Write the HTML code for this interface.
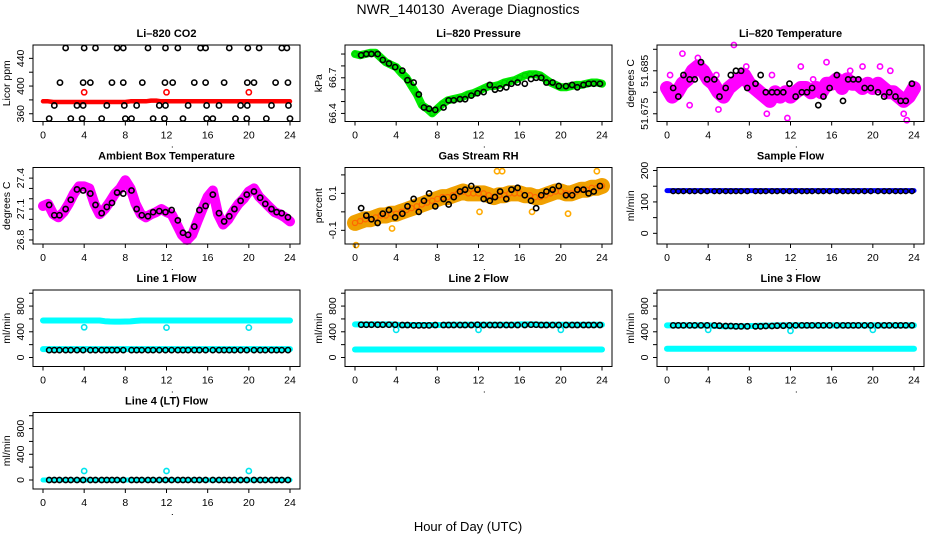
<!DOCTYPE html>
<html><head><meta charset="utf-8"><style>
html,body{margin:0;padding:0;background:#fff;}
svg{display:block;font-family:"Liberation Sans",Arial,sans-serif;}
</style></head><body>
<svg id="chart" width="936" height="540" viewBox="0 0 936 540" xmlns="http://www.w3.org/2000/svg">
<text x="468" y="14" font-size="14" text-anchor="middle">NWR_140130&#160; Average Diagnostics</text>
<text x="468" y="531" font-size="13" text-anchor="middle">Hour of Day (UTC)</text>
</svg>
<script>
// ---- data ----
const halfHours = [0,0.5,1,1.5,2,2.5,3,3.5,4,4.5,5,5.5,6,6.5,7,7.5,8,8.5,9,9.5,10,10.5,11,11.5,12,12.5,13,13.5,14,14.5,15,15.5,16,16.5,17,17.5,18,18.5,19,19.5,20,20.5,21,21.5,22,22.5,23,23.5,24];
const hourPts = [0.6,1.1,1.6,2.2,2.7,3.3,3.9,4.6,5.1,5.7,6.2,6.7,7.2,7.8,8.6,9.1,9.6,10.2,10.7,11.3,11.9,12.5,13.1,13.6,14.1,14.7,15.2,15.8,16.5,17.1,17.6,18.1,18.6,19.2,19.8,20.5,21.1,21.6,22.2,22.7,23.2,23.8];
const xTicks = [0,4,8,12,16,20,24];

const co2Red = [378,378,377,377,377,377,377,377,377,377,377,377,377,377,377,377,377,378,378,378,378,379,379,378,378,378,378,378,378,378,378,378,378,378,378,378,378,378,378,378,378,378,378,378,378,378,378,378,378];
const co2RedCircHours = [4,12,20];
const co2RedCircVals = [391,391,391];
const co2BlackHours = [2.2,4.0,5.1,7.2,7.8,10.2,11.9,13.1,15.3,15.8,18.1,19.9,21.0,23.2,23.7, 1.65,3.9,4.6,6.7,7.8,9.65,11.85,12.6,14.7,15.8,17.6,19.85,20.5,22.6,23.8, 1.1,3.3,3.9,6.2,7.9,9.1,11.3,11.9,14.1,15.9,17.1,19.2,19.85,22.2,23.85, 0.6,2.7,3.8,5.7,8.0,8.6,10.7,11.8,13.6,15.9,16.5,18.7,19.8,21.7,24.0];
const co2BlackVals = [455,455,455,455,455,455,455,455,455,455,455,455,455,455,455, 405,405,405,405,405,405,405,405,405,405,405,405,405,405,405, 372,372,372,372,372,372,372,372,372,372,372,372,372,372,372, 353,353,353,353,353,353,353,353,353,353,353,353,353,353,353];

const pressGreen = [66.90,66.89,66.90,66.91,66.91,66.87,66.83,66.81,66.79,66.74,66.70,66.63,66.56,66.47,66.44,66.40,66.44,66.48,66.51,66.52,66.53,66.54,66.56,66.57,66.59,66.61,66.63,66.63,66.64,66.66,66.67,66.68,66.70,66.72,66.73,66.73,66.72,66.69,66.66,66.64,66.62,66.62,66.63,66.64,66.64,66.65,66.66,66.66,66.65];
const pressBlack = [66.89,66.90,66.90,66.90,66.85,66.82,66.79,66.76,66.68,66.66,66.56,66.45,66.44,66.43,66.45,66.51,66.51,66.52,66.52,66.55,66.57,66.58,66.64,66.60,66.61,66.62,66.65,66.66,66.65,66.69,66.70,66.70,66.66,66.66,66.63,66.63,66.64,66.62,66.64,66.65,66.65,66.65];

const tempMag = [51.681,51.679,51.680,51.682,51.683,51.685,51.686,51.685,51.683,51.682,51.680,51.679,51.681,51.682,51.683,51.684,51.682,51.681,51.680,51.679,51.678,51.680,51.679,51.680,51.679,51.680,51.681,51.681,51.680,51.681,51.680,51.682,51.682,51.683,51.681,51.683,51.682,51.682,51.681,51.682,51.681,51.682,51.681,51.680,51.680,51.679,51.678,51.679,51.681];
const tempOutHours = [1.5,6.5,15.5,11.7,9.7,23.3,5,23,7.7,19,14.2,3,20.7,13,0.3,2.2,10.2,17.8,21.7,4.8];
const tempOutVals = [51.689,51.691,51.687,51.674,51.675,51.6735,51.676,51.675,51.686,51.686,51.683,51.688,51.686,51.686,51.684,51.677,51.684,51.685,51.685,51.684];
const tempBlack = [51.681,51.679,51.684,51.683,51.683,51.687,51.683,51.683,51.679,51.681,51.684,51.685,51.685,51.681,51.682,51.684,51.680,51.680,51.680,51.680,51.682,51.679,51.680,51.680,51.681,51.677,51.679,51.681,51.684,51.678,51.683,51.683,51.683,51.681,51.681,51.680,51.679,51.680,51.679,51.678,51.678,51.682];

const ambMag = [27.13,27.15,27.05,27.02,27.07,27.15,27.25,27.32,27.32,27.30,27.15,27.05,27.10,27.17,27.25,27.30,27.38,27.30,27.15,27.05,27.02,27.05,27.07,27.10,27.07,27.05,26.95,26.85,26.80,26.85,26.98,27.10,27.22,27.28,27.05,26.95,27.00,27.08,27.15,27.20,27.27,27.30,27.22,27.17,27.12,27.07,27.05,27.02,26.98];
const ambBlack = [27.14,27.04,27.04,27.10,27.19,27.29,27.28,27.25,27.14,27.06,27.12,27.16,27.26,27.25,27.28,27.10,27.04,27.03,27.07,27.08,27.07,27.09,26.99,26.87,26.85,26.93,27.09,27.13,27.24,27.06,26.98,27.03,27.10,27.18,27.24,27.27,27.21,27.15,27.10,27.07,27.06,27.02];

const rhOrange = [-0.06,-0.05,-0.04,-0.04,-0.03,-0.02,-0.02,-0.01,-0.01,0.0,0.01,0.02,0.03,0.04,0.05,0.06,0.07,0.08,0.08,0.09,0.10,0.11,0.10,0.10,0.10,0.10,0.09,0.08,0.09,0.09,0.10,0.10,0.10,0.09,0.09,0.08,0.08,0.09,0.10,0.11,0.11,0.10,0.10,0.11,0.12,0.12,0.13,0.13,0.14];
const rhBlack = [0.02,-0.02,-0.04,-0.06,-0.01,0.01,-0.03,-0.01,0.03,0.07,0.00,0.06,0.10,0.03,0.07,0.04,0.08,0.11,0.12,0.14,0.12,0.07,0.06,0.08,0.11,0.07,0.12,0.13,0.09,0.06,0.02,0.09,0.11,0.12,0.14,0.09,0.09,0.12,0.12,0.10,0.11,0.14];
const rhOutHours = [0.1,3.6,12.1,13.8,17.2,20.7,23.5,14.3];
const rhOutVals = [-0.18,-0.09,0.00,0.22,0.0,-0.01,0.22,0.22];

const sampleBlue = [136,136,136,136,136,136,136,136,136,136,136,136,136,136,136,136,136,136,136,136,136,136,136,136,136,136,136,136,136,136,136,136,136,136,136,136,136,136,136,136,136,136,136,136,136,136,136,136,136];
const sampleBlack = [134,134,134,134,134,134,134,134,134,134,134,134,134,134,134,134,134,134,134,134,134,134,134,134,134,134,134,134,134,134,134,134,134,134,134,134,134,134,134,134,134,134];

const flowCircHours = [4,12,20];
const line1CyanHi = [575,575,575,575,575,575,575,575,575,575,575,575,565,560,558,558,560,562,570,575,575,575,575,575,575,575,575,575,575,575,575,575,575,575,575,575,575,575,575,575,575,575,575,575,575,575,575,575,575];
const line1CyanLo = [130,130,130,130,130,130,130,130,130,130,130,130,130,130,130,130,130,130,130,130,130,130,130,130,130,130,130,130,130,130,130,130,130,130,130,130,130,130,130,130,130,130,130,130,130,130,130,130,130];
const line1Black = [115,115,115,115,115,115,115,115,115,115,115,115,115,115,115,115,115,115,115,115,115,115,115,115,115,115,115,115,115,115,115,115,115,115,115,115,115,115,115,115,115,115];
const line1Circ = [470,465,465];

const line2CyanHi = [515,515,515,515,515,515,515,515,510,505,505,505,505,505,505,505,505,505,510,510,510,510,510,510,510,510,510,510,510,510,510,510,515,515,515,515,510,510,510,510,510,510,510,510,510,510,510,510,510];
const line2CyanLo = [125,125,125,125,125,125,125,125,125,125,125,125,125,125,125,125,125,125,125,125,125,125,125,125,125,125,125,125,125,125,125,125,125,125,125,125,125,125,125,125,125,125,125,125,125,125,125,125,125];
const line2Black = [510,510,510,510,510,510,510,505,505,500,500,500,500,505,505,505,505,505,505,505,510,505,505,505,505,505,505,505,505,510,510,505,505,505,505,505,505,505,505,505,505,505];
const line2Circ = [430,430,430];

const line3CyanHi = [500,500,500,500,500,500,500,500,500,495,490,485,485,485,485,485,490,490,495,495,495,500,500,500,500,500,500,500,500,500,500,500,500,500,500,500,500,500,500,500,500,500,500,500,500,500,500,500,500];
const line3CyanLo = [135,135,135,135,135,135,135,135,135,135,135,135,135,135,135,135,135,135,135,135,135,135,135,135,135,135,135,135,135,135,135,135,135,135,135,135,135,135,135,135,135,135,135,135,135,135,135,135,135];
const line3Black = [500,500,500,500,500,500,500,500,495,490,490,485,485,485,485,485,490,490,495,495,500,500,500,500,500,500,500,500,500,500,500,500,500,500,500,500,500,500,500,500,500,500];
const line3Circ = [430,415,430];

const line4Cyan = [0,0,0,0,0,0,0,0,0,0,0,0,0,0,0,0,0,0,0,0,0,0,0,0,0,0,0,0,0,0,0,0,0,0,0,0,0,0,0,0,0,0,0,0,0,0,0,0,0];
const line4Black = [0,0,0,0,0,0,0,0,0,0,0,0,0,0,0,0,0,0,0,0,0,0,0,0,0,0,0,0,0,0,0,0,0,0,0,0,0,0,0,0,0,0];
const line4Circ = [140,140,140];

// ---- drawing ----
const NS = 'http://www.w3.org/2000/svg';
const svg = document.getElementById('chart');
const colX = [33,345,657];
const rowY = [45,167.5,290,412.5];
const BW = 267, BH = 76.5;
function mk(tag, attrs, parent){ const e=document.createElementNS(NS,tag); for(const k in attrs) e.setAttribute(k,attrs[k]); (parent||svg).appendChild(e); return e; }

function panel(name, col, row, title, ylab, ylim, yticks, ylabels){
  const g = mk('g',{});
  
  
  const bx=colX[col], by=rowY[row];
  const xs = h => bx+10 + h*(BW-20)/24;
  const ys = v => by+BH - (v-ylim[0])/(ylim[1]-ylim[0])*BH;
  const t = mk('text',{x:bx+BW/2,y:by-8,'font-size':11,'font-weight':'bold','text-anchor':'middle'},g);
  t.textContent=title;
  
  
  const marks = mk('g',{},g);
  
  
  const box = mk('rect',{x:bx,y:by,width:BW,height:BH,fill:'none',stroke:'#000','stroke-width':1},g);
  
  
  const xa = mk('g',{},g);
  
  
  xTicks.forEach(h=>{
    mk('line',{x1:xs(h),x2:xs(h),y1:by+BH,y2:by+BH+4,stroke:'#000'},xa);
    const l=mk('text',{x:xs(h),y:by+BH+17,'font-size':10.5,'text-anchor':'middle'},xa); l.textContent=h;
  });
  mk('rect',{x:bx+BW*0.52,y:by+BH+25,width:1,height:1,fill:'#000'},xa);
  const ya = mk('g',{},g);
  
  
  yticks.forEach(v=>{ mk('line',{x1:bx-4,x2:bx,y1:ys(v),y2:ys(v),stroke:'#000'},ya); });
  ylabels.forEach(v=>{
    const x=bx-9, y=ys(v);
    const l=mk('text',{x:x,y:y,'font-size':10.5,'text-anchor':'middle',transform:`rotate(-90 ${x} ${y})`},ya); l.textContent=v;
  });
  const yl = mk('text',{x:bx-23,y:by+BH/2,'font-size':10.5,'text-anchor':'middle',transform:`rotate(-90 ${bx-23} ${by+BH/2})`},g);
  yl.textContent=ylab;
  
  
  return {xs,ys,marks};
}
function band(p, hours, vals, color, w){
  const d = hours.map((h,i)=>(i?'L':'M')+p.xs(h).toFixed(1)+' '+p.ys(vals[i]).toFixed(1)).join(' ');
  mk('path',{d:d,fill:'none',stroke:color,'stroke-width':w,'stroke-linecap':'round','stroke-linejoin':'round'},p.marks);
}
function circles(p, hours, vals, color, r, sw){
  hours.forEach((h,i)=>{ mk('circle',{cx:p.xs(h),cy:p.ys(vals[i]),r:r||2.6,fill:'none',stroke:color,'stroke-width':sw||1.6},p.marks); });
}

// CO2
let p = panel('co2',0,0,'Li\u2013820 CO2','Licor ppm',[348.8,459.3],[360,380,400,420,440],[360,400,440]);
band(p, halfHours, co2Red, '#ff0000', 4.5);
circles(p, co2RedCircHours, co2RedCircVals, '#ff0000');
circles(p, co2BlackHours, co2BlackVals, '#000');

// Pressure
p = panel('pressure',1,0,'Li\u2013820 Pressure','kPa',[66.332,66.976],[66.4,66.5,66.6,66.7,66.8,66.9],[66.4,66.7]);
band(p, halfHours, pressGreen, '#00ee00', 8);
circles(p, halfHours, pressGreen, '#00cc00', 2.4, 1.2);
circles(p, hourPts, pressBlack, '#000');

// Li temp
p = panel('li-temp',2,0,'Li\u2013820 Temperature','degrees C',[51.6732,51.6910],[51.675,51.680,51.685,51.690],['51.675','51.685']);
band(p, halfHours, tempMag, '#ff00ff', 14);
circles(p, halfHours, tempMag, '#ff00ff', 2.6, 1.6);
circles(p, tempOutHours, tempOutVals, '#ff00ff', 2.6, 1.6);
circles(p, hourPts, tempBlack, '#000');

// Ambient
p = panel('ambient-temp',0,1,'Ambient Box Temperature','degrees C',[26.761,27.503],[26.8,26.9,27.0,27.1,27.2,27.3,27.4],['26.8','27.1','27.4']);
band(p, halfHours, ambMag, '#ff00ff', 10);
circles(p, hourPts, ambBlack, '#000');

// Gas RH
p = panel('gas-rh',1,1,'Gas Stream RH','percent',[-0.174,0.240],[-0.1,0,0.1,0.2],['-0.1','0.1']);
band(p, halfHours, rhOrange, '#f0a000', 16);
circles(p, halfHours, rhOrange, '#ff6600', 2.6, 1.2);
circles(p, rhOutHours, rhOutVals, '#ffaa00', 2.6, 1.6);
circles(p, hourPts, rhBlack, '#000');

// Sample flow
p = panel('sample-flow',2,1,'Sample Flow','ml/min',[-34,209.6],[0,50,100,150,200],[0,100,200]);
band(p, halfHours, sampleBlue, '#0000ff', 5);
circles(p, hourPts, sampleBlack, '#000', 2.4, 1.4);

const fl=[-140,1050], ft=[0,200,400,600,800,1000], fll=[0,400,800];
// Line 1
p = panel('line1-flow',0,2,'Line 1 Flow','ml/min',fl,ft,fll);
band(p, halfHours, line1CyanHi, '#00ffff', 6);
band(p, halfHours, line1CyanLo, '#00ffff', 6);
circles(p, flowCircHours, line1Circ, '#00e5ee');
circles(p, hourPts, line1Black, '#000');
// Line 2
p = panel('line2-flow',1,2,'Line 2 Flow','ml/min',fl,ft,fll);
band(p, halfHours, line2CyanHi, '#00ffff', 6);
band(p, halfHours, line2CyanLo, '#00ffff', 6);
circles(p, flowCircHours, line2Circ, '#00e5ee');
circles(p, hourPts, line2Black, '#000');
// Line 3
p = panel('line3-flow',2,2,'Line 3 Flow','ml/min',fl,ft,fll);
band(p, halfHours, line3CyanHi, '#00ffff', 6);
band(p, halfHours, line3CyanLo, '#00ffff', 6);
circles(p, flowCircHours, line3Circ, '#00e5ee');
circles(p, hourPts, line3Black, '#000');
// Line 4
p = panel('line4-flow',0,3,'Line 4 (LT) Flow','ml/min',fl,ft,fll);
band(p, halfHours, line4Cyan, '#00ffff', 5);
circles(p, flowCircHours, line4Circ, '#00e5ee');
circles(p, hourPts, line4Black, '#000');
</script>
</body></html>
